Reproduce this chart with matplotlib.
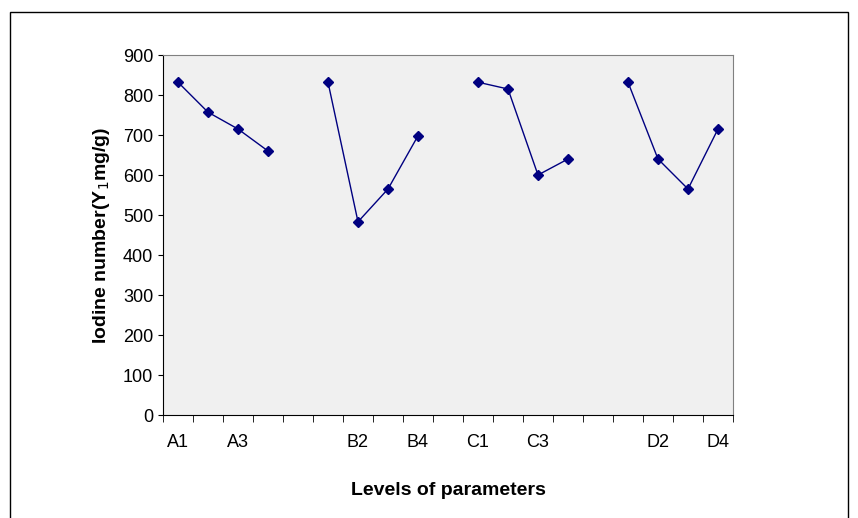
import matplotlib
matplotlib.use("Agg")
import matplotlib.pyplot as plt
import numpy as np

plt.rcParams["font.family"] = ["Liberation Sans", "DejaVu Sans"]

groups = ["A", "B", "C", "D"]
values = {
    "A": [832, 757, 715, 660],
    "B": [832, 483, 565, 698],
    "C": [832, 815, 600, 640],
    "D": [832, 640, 565, 715],
}

# build category axis with a blank slot between groups
cats = []
for i, g in enumerate(groups):
    cats += [f"{g}{k}" for k in range(1, 5)]
    if i < len(groups) - 1:
        cats.append("")

fig = plt.figure(figsize=(8.58, 5.18), dpi=100)
fig.patch.set_facecolor("white")
ax = fig.add_axes([163 / 858, 1 - 415 / 518, 570 / 858, 360 / 518])
ax.set_facecolor("#f0f0f0")

pos = 0
for g in groups:
    x = np.arange(pos, pos + 4)
    ax.plot(x, values[g], color="#000080", lw=1, marker="D", ms=5)
    pos += 5

ax.set_xlim(-0.5, len(cats) - 0.5)
ax.set_ylim(0, 900)
ax.set_yticks(range(0, 901, 100))
ax.set_xticks(range(0, len(cats), 2))
ax.set_xticklabels(cats[::2], fontsize=13)
ax.tick_params(axis="y", labelsize=13)
ax.set_xticks(np.arange(-0.5, len(cats), 1), minor=True)
ax.tick_params(axis="x", which="major", length=0, pad=14)
ax.tick_params(axis="x", which="minor", length=5)
for s in ["top", "right"]:
    ax.spines[s].set_color("#808080")
ax.set_xlabel("Levels of parameters", fontsize=14, fontweight="bold", labelpad=22)
ax.set_ylabel("Iodine number(Y$_1$mg/g)", fontsize=14, fontweight="bold", labelpad=8)

fig.add_artist(plt.Rectangle((0.012, -0.01), 0.976, 0.987, transform=fig.transFigure,
                             fill=False, ec="black", lw=1))
fig.savefig("out.png", dpi=100)
